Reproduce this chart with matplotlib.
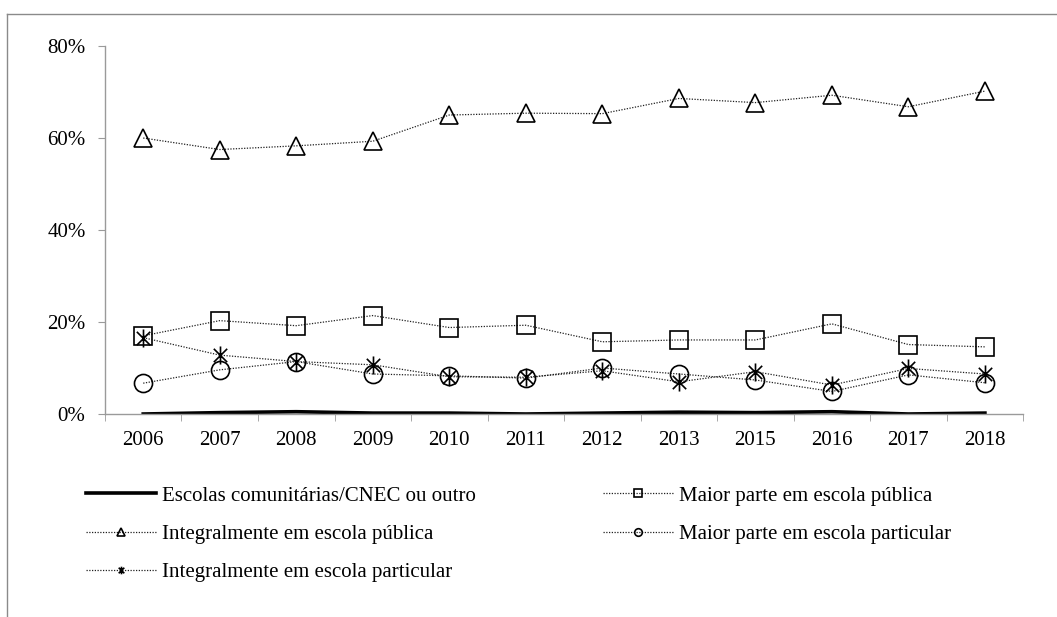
import matplotlib.pyplot as plt
import numpy as np
from matplotlib.path import Path
from matplotlib.lines import Line2D
from matplotlib.ticker import FuncFormatter, FixedLocator

plt.rcParams['font.family'] = ['Liberation Serif', 'DejaVu Serif']

anos = ['2006', '2007', '2008', '2009', '2010', '2011', '2012', '2013', '2015', '2016', '2017', '2018']

# percentuais (%)
comunitarias = [0.0, 0.3, 0.5, 0.2, 0.2, 0.0, 0.2, 0.4, 0.3, 0.5, 0.0, 0.2]
maior_publica = [17.0, 20.3, 19.2, 21.4, 18.8, 19.3, 15.7, 16.1, 16.1, 19.6, 15.1, 14.6]
integral_publica = [60.0, 57.5, 58.3, 59.3, 65.0, 65.4, 65.3, 68.6, 67.7, 69.3, 66.8, 70.2]
maior_particular = [6.7, 9.6, 11.4, 8.7, 8.3, 7.8, 10.0, 8.7, 7.4, 4.9, 8.5, 6.8]
integral_particular = [16.6, 12.8, 11.4, 10.7, 8.1, 8.0, 9.4, 7.0, 9.2, 6.3, 9.9, 8.7]

# asterisco estilo Excel (X + barra vertical)
asterisco = Path([(-1, -1), (1, 1), (-1, 1), (1, -1), (0, -1.35), (0, 1.35)],
                 [Path.MOVETO, Path.LINETO, Path.MOVETO, Path.LINETO, Path.MOVETO, Path.LINETO])

fig = plt.figure(figsize=(10.57, 6.17), dpi=100)
ax = fig.add_axes([0.0993, 0.329, 0.8687, 0.5964])

x = np.arange(len(anos))
dot = dict(color='#202020', linewidth=0.9, linestyle=(0, (1, 1.2)),
           markerfacecolor='none', markeredgecolor='black', markeredgewidth=1.2)

l1, = ax.plot(x, np.array(comunitarias) / 100, color='black', linewidth=2.6,
              label='Escolas comunitárias/CNEC ou outro')
l2, = ax.plot(x, np.array(maior_publica) / 100, marker='s', markersize=12.5, **dot,
              label='Maior parte em escola pública')
l3, = ax.plot(x, np.array(integral_publica) / 100, marker='^', markersize=13, **dot,
              label='Integralmente em escola pública')
l4, = ax.plot(x, np.array(maior_particular) / 100, marker='o', markersize=13, **dot,
              label='Maior parte em escola particular')
l5, = ax.plot(x, np.array(integral_particular) / 100, marker=asterisco, markersize=13, **dot,
              label='Integralmente em escola particular')

ax.set_xlim(-0.5, len(anos) - 0.5)
ax.set_ylim(0, 0.8)
ax.set_yticks([0, 0.2, 0.4, 0.6, 0.8])
ax.yaxis.set_major_formatter(FuncFormatter(lambda v, p: f'{v * 100:.0f}%'))
ax.set_xticks(x)
ax.set_xticklabels(anos)
ax.xaxis.set_minor_locator(FixedLocator(np.arange(-0.5, len(anos), 1)))

for s in ['top', 'right']:
    ax.spines[s].set_visible(False)
for s in ['left', 'bottom']:
    ax.spines[s].set_color('#9a9a9a')
    ax.spines[s].set_linewidth(1)

ax.tick_params(axis='y', length=5, color='#9a9a9a', pad=9, labelsize=15)
ax.tick_params(axis='x', which='major', length=0, pad=12, labelsize=15)
ax.tick_params(axis='x', which='minor', length=5, color='#9a9a9a')

# moldura externa
fig.add_artist(Line2D([7 / 1057, 1.0], [1 - 14 / 617, 1 - 14 / 617], color='#8a8a8a', linewidth=1,
                      transform=fig.transFigure))
fig.add_artist(Line2D([7 / 1057, 7 / 1057], [0, 1 - 14 / 617], color='#8a8a8a', linewidth=1,
                      transform=fig.transFigure))

leg_kw = dict(loc='upper left', frameon=False, fontsize=15, borderpad=0, borderaxespad=0,
              handlelength=3.35, handletextpad=0.3, labelspacing=0.9, markerscale=0.42)
leg1 = fig.legend([l1, l3, l5], [l1.get_label(), l3.get_label(), l5.get_label()],
                  bbox_to_anchor=(86 / 1057, 1 - 486 / 617), **leg_kw)
leg2 = fig.legend([l2, l4], [l2.get_label(), l4.get_label()],
                  bbox_to_anchor=(603 / 1057, 1 - 486 / 617), **leg_kw)

fig.savefig('out.png', dpi=100)
